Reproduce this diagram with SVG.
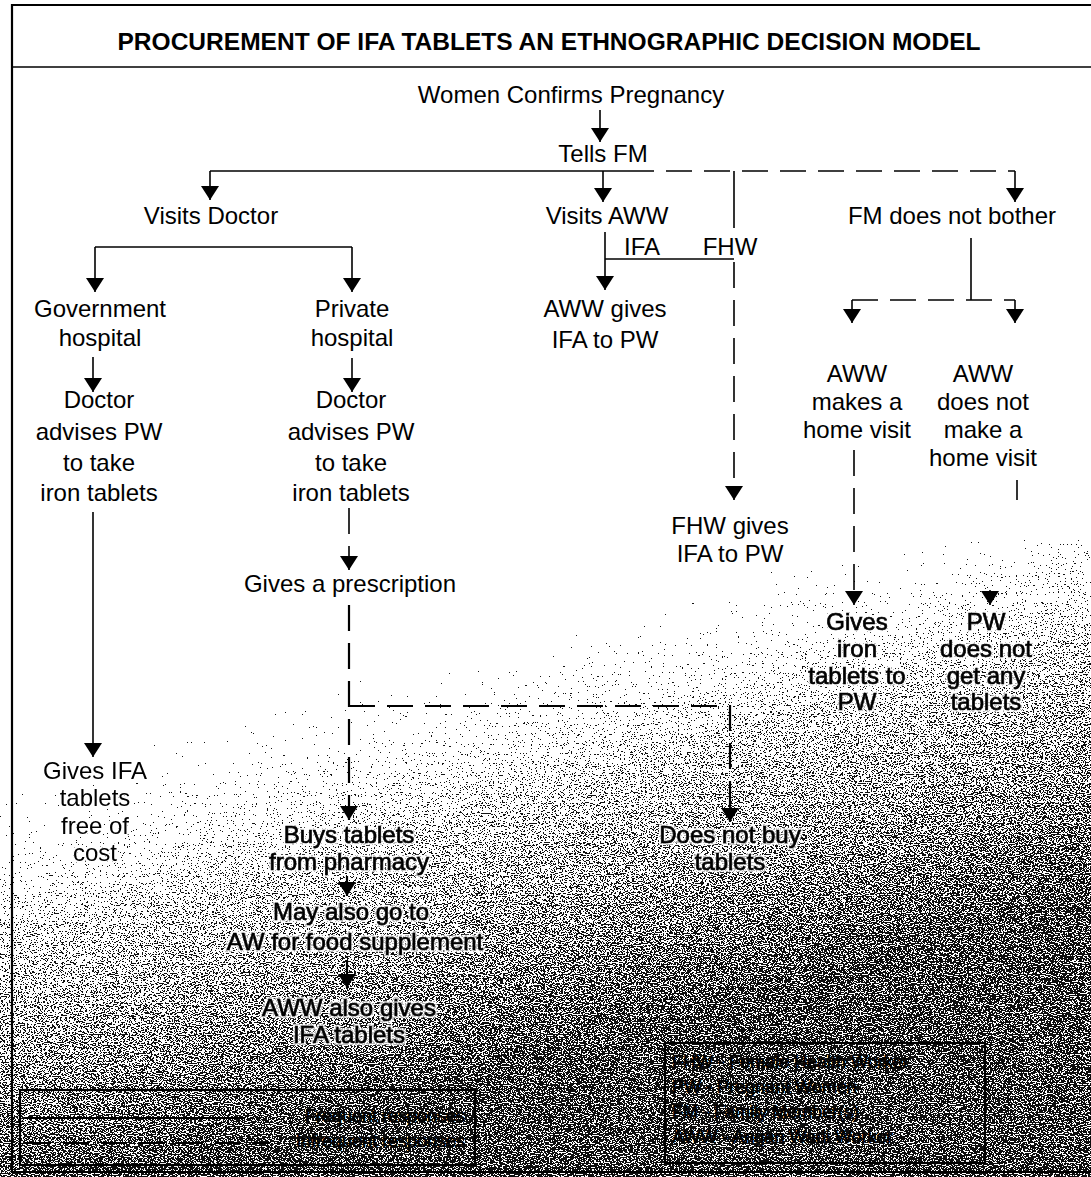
<svg xmlns="http://www.w3.org/2000/svg" width="1091" height="1177" viewBox="0 0 1091 1177">
  <style>
    text { font-family: "Liberation Sans", Arial, sans-serif; font-size: 24px; fill: #000; text-anchor: middle; }
    .title { font-weight: bold; font-size: 24px; }
    .legend { font-size: 18px; }
    .lt { text-anchor: start; }
    .rt { text-anchor: end; }
    .h { filter: url(#halo); }
    .b text { stroke: #000; stroke-width: 0.7px; }
    .ln { fill: none; stroke: #000; stroke-width: 1.6; }
    .box { fill: none; stroke: #000; stroke-width: 2.2; }
    .dash { stroke-dasharray: 26 12; }
    .arr { marker-end: url(#head); }
  </style>
  <defs>
    <marker id="head" viewBox="0 0 14 18" refX="14" refY="9" markerWidth="14" markerHeight="18" markerUnits="userSpaceOnUse" orient="auto">
      <path d="M0,0 L14,9 L0,18 z" fill="#000"/>
    </marker>
    <linearGradient id="shade" gradientUnits="userSpaceOnUse" x1="480" y1="560" x2="620" y2="1040">
      <stop offset="0" stop-color="#000" stop-opacity="0"/>
      <stop offset="0.2" stop-color="#000" stop-opacity="0.3"/>
      <stop offset="0.5" stop-color="#000" stop-opacity="0.5"/>
      <stop offset="1" stop-color="#000" stop-opacity="0.66"/>
    </linearGradient>
    <filter id="grain" x="0" y="0" width="100%" height="100%" color-interpolation-filters="sRGB">
      <feTurbulence type="fractalNoise" baseFrequency="0.55 0.9" numOctaves="2" seed="7" result="n"/>
      <feColorMatrix in="n" type="matrix" values="0 0 0 0 0.12  0 0 0 0 0.12  0 0 0 0 0.12  1 0 0 0 0" result="na"/>
      <feComposite in="SourceGraphic" in2="na" operator="arithmetic" k1="0" k2="0.5" k3="0.5" k4="0" result="sum"/>
      <feComponentTransfer in="sum">
        <feFuncA type="discrete" tableValues="0 0 0 0 0 0 0 0 0 0 0 1 1 1 1 1 1 1 1 1"/>
      </feComponentTransfer>
    </filter>
    <filter id="halo" x="-10%" y="-20%" width="120%" height="140%" color-interpolation-filters="sRGB">
      <feMorphology in="SourceAlpha" operator="dilate" radius="1.5" result="d"/>
      <feFlood flood-color="#fff" flood-opacity="0.75"/>
      <feComposite in2="d" operator="in" result="w"/>
      <feMerge><feMergeNode in="w"/><feMergeNode in="SourceGraphic"/></feMerge>
    </filter>
  </defs>

  <rect width="1091" height="1177" fill="#fff"/>

  <!-- speckled toner in the lower part of the sheet -->
  <rect x="0" y="540" width="1091" height="637" fill="url(#shade)" filter="url(#grain)"/>

  <!-- frame and title band -->
  <g id="frame">
    <path class="box" d="M1091,5 H12 V1172 H1091"/>
    <path class="ln" d="M12,67 H1091"/>
    <text class="title" x="549" y="50" textLength="863" lengthAdjust="spacingAndGlyphs">PROCUREMENT OF IFA TABLETS   AN ETHNOGRAPHIC DECISION MODEL</text>
  </g>

  <!-- connectors -->
  <g id="connectors">
    <path class="ln arr" d="M600,110 V142"/>
    <path class="ln" d="M210,171 H628"/>
    <path class="ln dash" d="M628,171 H1015"/>
    <path class="ln arr" d="M210,171 V200"/>
    <path class="ln arr" d="M603,171 V202"/>
    <path class="ln arr" d="M1015,171 V202"/>
    <path class="ln" d="M734,171 V228"/>

    <path class="ln" d="M95,247 H352"/>
    <path class="ln arr" d="M95,247 V292"/>
    <path class="ln arr" d="M352,247 V292"/>
    <path class="ln arr" d="M93,357 V392"/>
    <path class="ln arr" d="M352,358 V392"/>
    <path class="ln arr" d="M93,512 V757"/>
    <path class="ln dash arr" d="M349,508 V570"/>

    <path class="ln arr" d="M605,232 V290"/>
    <path class="ln" d="M605,259 H734"/>
    <path class="ln dash arr" d="M734,262 V500"/>

    <path class="ln" d="M971,238 V300"/>
    <path class="ln dash" d="M852,300 H1015"/>
    <path class="ln arr" d="M852,300 V323"/>
    <path class="ln arr" d="M1015,300 V323"/>
    <path class="ln dash arr" d="M854,450 V605"/>
    <path class="ln" d="M1017,480 V500"/>
    <path class="ln arr" d="M990,590 V605"/>

    <path class="box dash arr" d="M349,605 V820"/>
    <path class="box dash arr" d="M349,706 H730 V822"/>
    <path class="box arr" d="M347,876 V896"/>
    <path class="box arr" d="M347,960 V988"/>
  </g>

  <!-- nodes -->
  <g id="n-women"><text x="571" y="103">Women Confirms Pregnancy</text></g>
  <g id="n-tells"><text x="603" y="162">Tells FM</text></g>
  <g id="n-doctor"><text x="211" y="224">Visits Doctor</text></g>
  <g id="n-aww"><text x="607" y="224">Visits AWW</text></g>
  <g id="n-nobother"><text x="952" y="224">FM does not bother</text></g>
  <g id="l-ifa"><text x="642" y="255">IFA</text></g>
  <g id="l-fhw"><text x="730" y="255">FHW</text></g>

  <g id="n-govt"><text x="100" y="317">Government</text><text x="100" y="346">hospital</text></g>
  <g id="n-private"><text x="352" y="317">Private</text><text x="352" y="346">hospital</text></g>
  <g id="n-advise-govt">
    <text x="99" y="408">Doctor</text><text x="99" y="440">advises PW</text>
    <text x="99" y="471">to take</text><text x="99" y="501">iron tablets</text>
  </g>
  <g id="n-advise-private">
    <text x="351" y="408">Doctor</text><text x="351" y="440">advises PW</text>
    <text x="351" y="471">to take</text><text x="351" y="501">iron tablets</text>
  </g>
  <g id="n-aww-gives"><text x="605" y="317">AWW gives</text><text x="605" y="348">IFA to PW</text></g>
  <g id="n-fhw-gives"><text x="730" y="534">FHW gives</text><text x="730" y="562">IFA to PW</text></g>

  <g id="n-visit"><text x="857" y="382">AWW</text><text x="857" y="410">makes a</text><text x="857" y="438">home visit</text></g>
  <g id="n-novisit"><text x="983" y="382">AWW</text><text x="983" y="410">does not</text><text x="983" y="438">make a</text><text x="983" y="466">home visit</text></g>
  <g id="n-gives-iron" class="h b"><text x="857" y="630">Gives</text><text x="857" y="657">iron</text><text x="857" y="684">tablets to</text><text x="857" y="710">PW</text></g>
  <g id="n-no-tablets" class="h b"><text x="986" y="630">PW</text><text x="986" y="657">does not</text><text x="986" y="684">get any</text><text x="986" y="710">tablets</text></g>

  <g id="n-prescription"><text x="350" y="592">Gives a prescription</text></g>
  <g id="n-free" class="h"><text x="95" y="779">Gives IFA</text><text x="95" y="806">tablets</text><text x="95" y="834">free of</text><text x="95" y="861">cost</text></g>
  <g id="n-buys" class="h b"><text x="349" y="843">Buys tablets</text><text x="349" y="870">from pharmacy</text></g>
  <g id="n-notbuy" class="h b"><text x="730" y="843">Does not buy</text><text x="730" y="870">tablets</text></g>
  <g id="n-aw" class="h b"><text x="351" y="920">May also go to</text><text x="355" y="950">AW for food supplement</text></g>
  <g id="n-aww-also" class="h b"><text x="349" y="1016">AWW also gives</text><text x="349" y="1043">IFA tablets</text></g>

  <!-- keys -->
  <g id="key-lines">
    <rect class="box" x="20" y="1090" width="455" height="75"/>
    <path class="box" d="M25,1118 H245"/>
    <path class="box dash" d="M25,1143 H270"/>
    <g class="b">
      <text class="legend rt" x="465" y="1122">Frequent responses</text>
      <text class="legend rt" x="465" y="1147">Infrequent responses</text>
    </g>
  </g>
  <g id="key-terms">
    <rect class="box" x="665" y="1043" width="320" height="120"/>
    <g class="b">
      <text class="legend lt" x="672" y="1068">FHW - Female Health Worker</text>
      <text class="legend lt" x="672" y="1093">PW - Pregnant Women</text>
      <text class="legend lt" x="672" y="1118">FM - Family Member(s)</text>
      <text class="legend lt" x="672" y="1143">AWW - Angan Wadi Worker</text>
    </g>
  </g>
</svg>
